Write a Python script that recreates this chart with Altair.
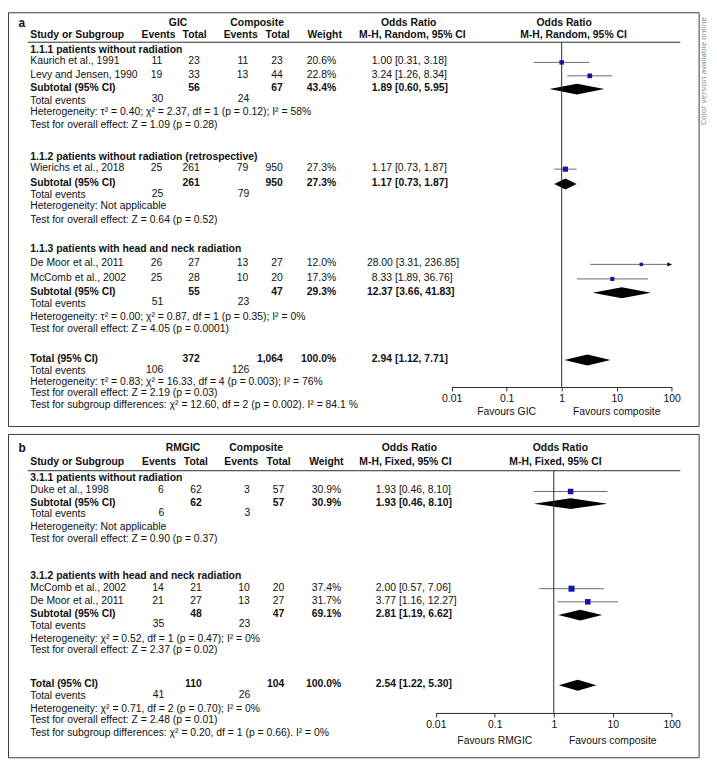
import altair as alt
import pandas as pd

# ======================= DATA =======================
# ---- panel a : GIC vs composite (M-H, random) ----
A_GROUPS = ["1.1.1 patients without radiation",
            "1.1.2 patients without radiation (retrospective)",
            "1.1.3 patients with head and neck radiation"]
A_STUDY = ["Kaurich et al., 1991", "Levy and Jensen, 1990", "Wierichs et al., 2018",
           "De Moor et al., 2011", "McComb et al., 2002"]
A_STUDY_GROUP = [0, 0, 1, 2, 2]
A_EV1 = [11, 19, 25, 26, 25]
A_TOT1 = [23, 33, 261, 27, 28]
A_EV2 = [11, 13, 79, 13, 10]
A_TOT2 = [23, 44, 950, 27, 20]
A_WEIGHT = [20.6, 22.8, 27.3, 12.0, 17.3]
A_OR = [1.00, 3.24, 1.17, 28.00, 8.33]
A_LO = [0.31, 1.26, 0.73, 3.31, 1.89]
A_HI = [3.18, 8.34, 1.87, 236.85, 36.76]
A_SUB_TOT1 = [56, 261, 55]
A_SUB_TOT2 = [67, 950, 47]
A_SUB_WEIGHT = [43.4, 27.3, 29.3]
A_SUB_OR = [1.89, 1.17, 12.37]
A_SUB_LO = [0.60, 0.73, 3.66]
A_SUB_HI = [5.95, 1.87, 41.83]
A_SUB_EV1 = [30, 25, 51]
A_SUB_EV2 = [24, 79, 23]
A_SUB_HET = ["Heterogeneity: τ² = 0.40; χ² = 2.37, df = 1 (p = 0.12); I² = 58%",
             "Heterogeneity: Not applicable",
             "Heterogeneity: τ² = 0.00; χ² = 0.87, df =  1 (p = 0.35); I² = 0%"]
A_SUB_Z = ["Test for overall effect: Z = 1.09 (p = 0.28)",
           "Test for overall effect: Z = 0.64 (p = 0.52)",
           "Test for overall effect: Z = 4.05 (p = 0.0001)"]
A_TOTAL = dict(tot1=372, tot2=1064, weight=100.0, orr=2.94, lo=1.12, hi=7.71, ev1=106, ev2=126,
               het="Heterogeneity: τ² = 0.83; χ² = 16.33, df = 4 (p = 0.003); I² = 76%",
               z="Test for overall effect: Z = 2.19 (p = 0.03)",
               sub="Test for subgroup differences: χ² = 12.60, df = 2 (p = 0.002). I² = 84.1 %")
A_HEAD = dict(label="a", g1="GIC", g2="Composite", method="M-H, Random, 95% CI",
              fav_lo="Favours GIC", fav_hi="Favours composite")

# ---- panel b : RMGIC vs composite (M-H, fixed) ----
B_GROUPS = ["3.1.1 patients without radiation",
            "3.1.2 patients with head and neck radiation"]
B_STUDY = ["Duke et al., 1998", "McComb et al., 2002", "De Moor et al., 2011"]
B_STUDY_GROUP = [0, 1, 1]
B_EV1 = [6, 14, 21]
B_TOT1 = [62, 21, 27]
B_EV2 = [3, 10, 13]
B_TOT2 = [57, 20, 27]
B_WEIGHT = [30.9, 37.4, 31.7]
B_OR = [1.93, 2.00, 3.77]
B_LO = [0.46, 0.57, 1.16]
B_HI = [8.10, 7.06, 12.27]
B_SUB_TOT1 = [62, 48]
B_SUB_TOT2 = [57, 47]
B_SUB_WEIGHT = [30.9, 69.1]
B_SUB_OR = [1.93, 2.81]
B_SUB_LO = [0.46, 1.19]
B_SUB_HI = [8.10, 6.62]
B_SUB_EV1 = [6, 35]
B_SUB_EV2 = [3, 23]
B_SUB_HET = ["Heterogeneity: Not applicable",
             "Heterogeneity: χ² = 0.52, df =  1 (p = 0.47); I² = 0%"]
B_SUB_Z = ["Test for overall effect: Z = 0.90 (p = 0.37)",
           "Test for overall effect: Z = 2.37 (p = 0.02)"]
B_TOTAL = dict(tot1=110, tot2=104, weight=100.0, orr=2.54, lo=1.22, hi=5.30, ev1=41, ev2=26,
               het="Heterogeneity: χ² = 0.71, df =  2 (p = 0.70); I² = 0%",
               z="Test for overall effect: Z = 2.48 (p = 0.01)",
               sub="Test for subgroup differences: χ² = 0.20, df = 1 (p = 0.66). I² = 0%")
B_HEAD = dict(label="b", g1="RMGIC", g2="Composite", method="M-H, Fixed, 95% CI",
              fav_lo="Favours RMGIC", fav_hi="Favours composite")

AXIS_TICKS = [0.01, 0.1, 1, 10, 100]
SIDE_NOTE = "Color version available online"

# ======================= LAYOUT / STYLE =======================
W, H = 709, 755
FONT = "Liberation Sans"
FS = 10.5
TXT = "#111111"
SQ_COL = "#1414a8"
CI_COL = "#6a6a6a"
LINE_COL = "#2a2a2a"
DIAMOND_H = 5.5

A_LAY = dict(box=(8.5, 707, 8.5, 427), head1=19, head2=30.7, hline=38.3, hline_x=(28, 688),
             group_y=[45.7, 154, 247.7], study_y=[57.7, 71.3, 165.7, 262, 276.7],
             sub_y=[84.7, 180.7, 290.7], te_y=[97.7, 193.3, 302.7], het_y=[109.3, 204.3, 316],
             z_y=[121.7, 217.7, 328.3], total_y=[358.7, 371, 381.7, 393, 405],
             axis_y=387, fav_y=412.3, plot_range=(456.7, 679.3),
             lab_x=18.5, g1_x=180, g2_x=260, name_x=30.5,
             hdr_x=[160.3, 196.7, 243.3, 280.7, 328.3],
             col_x=[164, 202, 251, 286, 340], te_x=[165, 252], or_x=376,
             orh_x=(413.3, 417), plh_x=(570.5, 580), size_k=1.0)
B_LAY = dict(box=(8.5, 707, 435, 762), head1=449, head2=463, hline=471.7, hline_x=(28, 688),
             group_y=[479, 578.3], study_y=[491.7, 590, 603.3],
             sub_y=[504, 616.7], te_y=[516, 628.3], het_y=[528.3, 641.7],
             z_y=[541, 653.3], total_y=[687.7, 700, 712.3, 724.3, 736.8],
             axis_y=716.7, fav_y=745, plot_range=(440.7, 679.3),
             lab_x=18.5, g1_x=185, g2_x=259, name_x=30.5,
             hdr_x=[160.8, 198, 244, 281.7, 330],
             col_x=[165.5, 204, 252.5, 287.5, 345], te_x=[166, 253], or_x=380,
             orh_x=(414, 410), plh_x=(566.7, 561.7), size_k=1.4)


def px_x():
    return alt.Scale(domain=[8, 8 + W], range=[0, W], nice=False, zero=False)


def px_y():
    return alt.Scale(domain=[8, 8 + H], range=[0, H], nice=False, zero=False)


def or_text(o, l, h):
    return f"{o:.2f} [{l:.2f}, {h:.2f}]"


def text_layers(items):
    df = pd.DataFrame(items)
    out = []
    for (align, bold, size, color), g in df.groupby(["align", "bold", "size", "color"]):
        out.append(alt.Chart(g).mark_text(align=align, baseline="middle", font=FONT, fontSize=float(size),
                                          fontWeight="bold" if bold else "normal", color=color)
                   .encode(x=alt.X("x:Q", scale=px_x(), axis=None),
                           y=alt.Y("y:Q", scale=px_y(), axis=None),
                           text=alt.Text("text:N")))
    return out


def panel(L, head, groups, study, sgrp, ev1, tot1, ev2, tot2, wt, orr, lo, hi,
          s_tot1, s_tot2, s_wt, s_or, s_lo, s_hi, s_ev1, s_ev2, s_het, s_z, total):
    items = []

    def add(text, x, y, align="left", bold=False, size=FS, color=TXT):
        items.append(dict(text=str(text), x=x, y=y, align=align, bold=bold, size=size, color=color))

    # headers
    add(head["label"], L["lab_x"], L["head1"], bold=True, size=12)
    add(head["g1"], L["g1_x"], L["head1"], "center", True)
    add(head["g2"], L["g2_x"], L["head1"], "center", True)
    add("Odds Ratio", L["orh_x"][0], L["head1"], "center", True)
    add("Odds Ratio", L["plh_x"][0], L["head1"], "center", True)
    add("Study or Subgroup", L["name_x"], L["head2"], bold=True)
    for t, x in zip(["Events", "Total", "Events", "Total", "Weight"], L["hdr_x"]):
        add(t, x, L["head2"], "center", True)
    add(head["method"], L["orh_x"][1], L["head2"], "center", True)
    add(head["method"], L["plh_x"][1], L["head2"], "center", True)

    cx = L["col_x"]
    # studies
    for i, s in enumerate(study):
        y = L["study_y"][i]
        add(s, L["name_x"], y)
        for v, x in zip([ev1[i], tot1[i], ev2[i], tot2[i]], cx[:4]):
            add(f"{v:,}", x, y, "right")
        add(f"{wt[i]:.1f}%", cx[4], y, "right")
        add(or_text(orr[i], lo[i], hi[i]), L["or_x"] - (5 if orr[i] >= 10 else 0), y)
    # subgroups
    for g, name in enumerate(groups):
        add(name, L["name_x"], L["group_y"][g], bold=True)
        y = L["sub_y"][g]
        add("Subtotal (95% CI)", L["name_x"], y, bold=True)
        add(f"{s_tot1[g]:,}", cx[1], y, "right", True)
        add(f"{s_tot2[g]:,}", cx[3], y, "right", True)
        add(f"{s_wt[g]:.1f}%", cx[4], y, "right", True)
        add(or_text(s_or[g], s_lo[g], s_hi[g]), L["or_x"] - (5 if s_or[g] >= 10 else 0), y, bold=True)
        y = L["te_y"][g]
        add("Total events", L["name_x"], y)
        add(s_ev1[g], L["te_x"][0], y - 1.5, "right")
        add(s_ev2[g], L["te_x"][1], y - 1.5, "right")
        add(s_het[g], L["name_x"], L["het_y"][g])
        add(s_z[g], L["name_x"], L["z_y"][g])
    # overall
    ty = L["total_y"]
    add("Total (95% CI)", L["name_x"], ty[0], bold=True)
    add(f"{total['tot1']:,}", cx[1], ty[0], "right", True)
    add(f"{total['tot2']:,}", cx[3], ty[0], "right", True)
    add(f"{total['weight']:.1f}%", cx[4], ty[0], "right", True)
    add(or_text(total["orr"], total["lo"], total["hi"]), L["or_x"], ty[0], bold=True)
    add("Total events", L["name_x"], ty[1])
    add(total["ev1"], L["te_x"][0], ty[1] - 1.5, "right")
    add(total["ev2"], L["te_x"][1], ty[1] - 1.5, "right")
    add(total["het"], L["name_x"], ty[2])
    add(total["z"], L["name_x"], ty[3])
    add(total["sub"], L["name_x"], ty[4])

    layers = text_layers(items)

    # border + header rule
    bx = L["box"]
    layers.append(alt.Chart(pd.DataFrame([dict(x=bx[0], x2=bx[1], y=bx[2], y2=bx[3])]))
                  .mark_rect(filled=False, color="#3a3a3a", strokeWidth=1)
                  .encode(x=alt.X("x:Q", scale=px_x(), axis=None), x2="x2:Q",
                          y=alt.Y("y:Q", scale=px_y(), axis=None), y2="y2:Q"))
    layers.append(alt.Chart(pd.DataFrame([dict(x=L["hline_x"][0], x2=L["hline_x"][1], y=L["hline"])]))
                  .mark_rule(color=LINE_COL, strokeWidth=1)
                  .encode(x=alt.X("x:Q", scale=px_x(), axis=None), x2="x2:Q",
                          y=alt.Y("y:Q", scale=px_y(), axis=None)))

    # ---- forest plot (log odds-ratio scale) ----
    def fs():
        return alt.Scale(type="log", domain=[AXIS_TICKS[0], AXIS_TICKS[-1]],
                         range=[L["plot_range"][0] - 8, L["plot_range"][1] - 8], clamp=True, nice=False)

    def fy(field):
        return alt.Y(field, scale=px_y(), axis=None)

    sdf = pd.DataFrame(dict(orr=orr, lo=lo, hi=hi, w=wt, y=[v + 1 for v in L["study_y"]]))
    layers.append(alt.Chart(sdf).mark_rule(color=CI_COL, strokeWidth=1)
                  .encode(x=alt.X("lo:Q", scale=fs(), axis=None), x2="hi:Q", y=fy("y:Q")))
    layers.append(alt.Chart(sdf).mark_square(color=SQ_COL, opacity=1)
                  .encode(x=alt.X("orr:Q", scale=fs(), axis=None), y=fy("y:Q"),
                          size=alt.Size("w:Q", scale=alt.Scale(domain=[0, 40], range=[0, 40 * L["size_k"]]),
                                        legend=None)))
    over = sdf[sdf["hi"] > AXIS_TICKS[-1]]
    if len(over):
        layers.append(alt.Chart(over).mark_point(shape="M -1.6 -0.8 L 0 0 L -1.6 0.8 Z", filled=True,
                                                 color="#000000", size=30, opacity=1)
                      .encode(x=alt.X("hi:Q", scale=fs(), axis=None), y=fy("y:Q")))

    # diamonds (subtotals + total)
    drow = []
    cents = list(zip(s_or, s_lo, s_hi, L["sub_y"])) + [(total["orr"], total["lo"], total["hi"], ty[0])]
    for k, (o, l, h, y) in enumerate(cents):
        yc = y + 1
        drow += [dict(id=k, x=l, y1=yc, y2=yc), dict(id=k, x=o, y1=yc - DIAMOND_H, y2=yc + DIAMOND_H),
                 dict(id=k, x=h, y1=yc, y2=yc)]
    layers.append(alt.Chart(pd.DataFrame(drow)).mark_area(color="#000000", orient="vertical", opacity=1)
                  .encode(x=alt.X("x:Q", scale=fs(), axis=None),
                          y=alt.Y("y1:Q", scale=px_y(), axis=None, stack=False), y2="y2:Q",
                          detail="id:N"))

    # line of no effect + log axis
    axis = alt.Axis(values=AXIS_TICKS, format="~g", orient="bottom", offset=L["axis_y"] - (8 + H),
                    tickSize=4, tickColor=LINE_COL, domainColor=LINE_COL, labelFont=FONT,
                    labelFontSize=FS, labelColor=TXT, labelFlush=False, labelPadding=3,
                    grid=False, title=None, labelOverlap=False)
    layers.append(alt.Chart(pd.DataFrame([dict(x=1, y=L["hline"], y2=L["axis_y"])]))
                  .mark_rule(color=LINE_COL, strokeWidth=1)
                  .encode(x=alt.X("x:Q", scale=fs(), axis=axis), y=fy("y:Q"), y2="y2:Q"))
    fav = pd.DataFrame([dict(x=0.1, y=L["fav_y"], t=head["fav_lo"]),
                        dict(x=10, y=L["fav_y"], t=head["fav_hi"])])
    layers.append(alt.Chart(fav).mark_text(font=FONT, fontSize=FS, color=TXT, baseline="middle", align="center")
                  .encode(x=alt.X("x:Q", scale=fs(), axis=None), y=fy("y:Q"), text="t:N"))
    return layers


layers = []
layers += panel(A_LAY, A_HEAD, A_GROUPS, A_STUDY, A_STUDY_GROUP, A_EV1, A_TOT1, A_EV2, A_TOT2, A_WEIGHT,
                A_OR, A_LO, A_HI, A_SUB_TOT1, A_SUB_TOT2, A_SUB_WEIGHT, A_SUB_OR, A_SUB_LO, A_SUB_HI,
                A_SUB_EV1, A_SUB_EV2, A_SUB_HET, A_SUB_Z, A_TOTAL)
layers += panel(B_LAY, B_HEAD, B_GROUPS, B_STUDY, B_STUDY_GROUP, B_EV1, B_TOT1, B_EV2, B_TOT2, B_WEIGHT,
                B_OR, B_LO, B_HI, B_SUB_TOT1, B_SUB_TOT2, B_SUB_WEIGHT, B_SUB_OR, B_SUB_LO, B_SUB_HI,
                B_SUB_EV1, B_SUB_EV2, B_SUB_HET, B_SUB_Z, B_TOTAL)

# side note (vertical)
layers.append(alt.Chart(pd.DataFrame([dict(x=712, y=122, t=SIDE_NOTE)]))
              .mark_text(angle=270, align="left", baseline="middle", font="Open Sans", fontSize=8,
                         color="#808080")
              .encode(x=alt.X("x:Q", scale=px_x(), axis=None), y=alt.Y("y:Q", scale=px_y(), axis=None),
                      text="t:N"))

chart = (alt.layer(*layers)
         .resolve_scale(x="independent")
         .properties(width=W, height=H, autosize=alt.AutoSizeParams(type="none"), padding=0)
         .configure_view(strokeWidth=0))

chart.save("out.html", embed_options={"renderer": "svg", "actions": False})
